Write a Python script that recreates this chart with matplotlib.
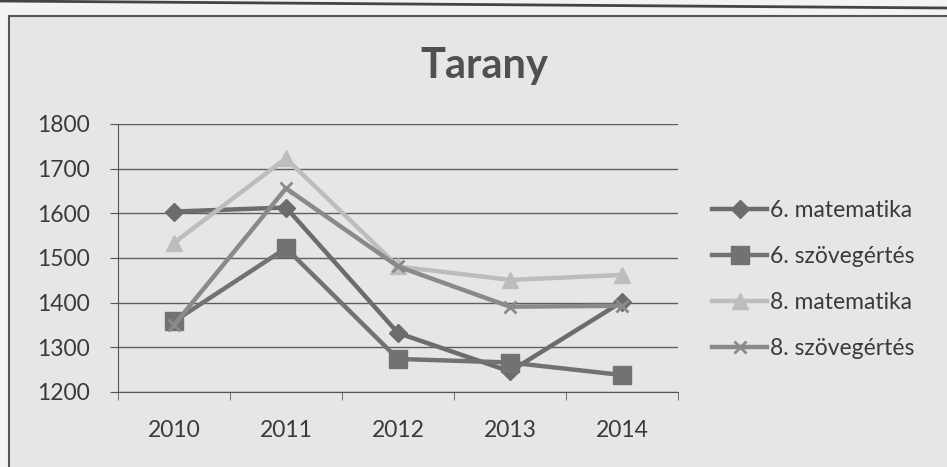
import matplotlib
matplotlib.use("Agg")
import matplotlib.pyplot as plt
from matplotlib.patches import Rectangle
from matplotlib.lines import Line2D

years = ["2010", "2011", "2012", "2013", "2014"]
series_names = ["6. matematika", "6. szövegértés", "8. matematika", "8. szövegértés"]
mat6 = [1604, 1613, 1332, 1246, 1402]
szov6 = [1358, 1522, 1274, 1266, 1238]
mat8 = [1534, 1723, 1481, 1451, 1462]
szov8 = [1350, 1656, 1481, 1391, 1393]

values = [mat6, szov6, mat8, szov8]
colors = ["#6c6c6c", "#727272", "#bdbdbd", "#8a8a8a"]
markers = ["D", "s", "^", "x"]
msizes = [9, 13, 12, 9]

plt.rcParams['font.family'] = ['Lato', 'DejaVu Sans']

fig = plt.figure(figsize=(9.47, 4.67), dpi=100)
fig.patch.set_facecolor("#f3f3f3")

# chart frame
fig.patches.append(Rectangle((9/947, -0.1), 1.0, 1 - 16/467 + 0.1, transform=fig.transFigure,
                             facecolor="#e6e6e6", edgecolor="#555555", lw=1.5, zorder=-10))
fig.lines.append(Line2D([0, 1], [1 - 1/467, 1 - 8/467], transform=fig.transFigure,
                        color="#444444", lw=2, zorder=-10))

ax = fig.add_axes([118/947, 1 - 392/467, (678 - 118)/947, (392 - 124)/467])
ax.set_facecolor("none")

x = list(range(len(years)))
for name, vals, c, m, ms in zip(series_names, values, colors, markers, msizes):
    ax.plot(x, vals, color=c, lw=3.2, marker=m, markersize=ms, markeredgewidth=2 if m == "x" else 1,
            markeredgecolor=c, markerfacecolor=c, label=name, zorder=3)

ax.set_xlim(-0.5, 4.5)
ax.set_ylim(1200, 1800)
ax.set_yticks(range(1200, 1801, 100))
ax.set_xticks(x)
ax.set_xticklabels(years)
ax.set_xticks([i - 0.5 for i in range(6)], minor=True)
ax.tick_params(axis="x", which="major", length=0, pad=20, labelsize=16.5, labelcolor="#3a3a3a")
ax.tick_params(axis="x", which="minor", length=6, color="#555555", direction="out")
ax.tick_params(axis="y", length=6, color="#555555", labelsize=16.5, labelcolor="#3a3a3a", pad=14)
ax.grid(axis="y", color="#5e5e5e", lw=1.0)
ax.set_axisbelow(True)
for s in ["top", "right"]:
    ax.spines[s].set_visible(False)
ax.spines["left"].set_color("#555555")
ax.spines["bottom"].set_color("#555555")

fig.text(484/947, 1 - 78/467, "Tarany", ha="center", va="baseline", fontsize=30,
         fontweight="bold", color="#505050")

ax.legend(loc="center left", bbox_to_anchor=(1.045, 0.42), borderaxespad=0, frameon=False,
          fontsize=16.5, handlelength=2.4, handletextpad=0.1, labelspacing=1.08,
          labelcolor="#3a3a3a")

fig.savefig("out.png", dpi=100, facecolor=fig.get_facecolor())
